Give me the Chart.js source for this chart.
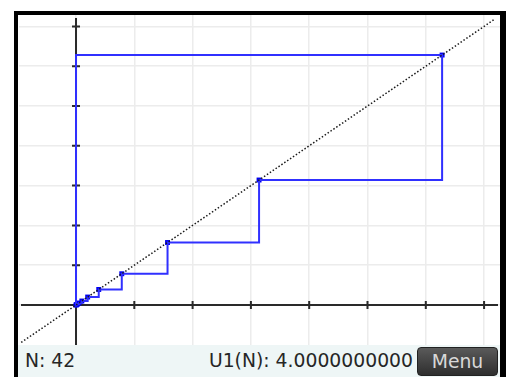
<!DOCTYPE html>
<html>
<head>
<meta charset="utf-8">
<script src="https://cdn.jsdelivr.net/npm/chart.js@4"></script>
<style>
  body { margin: 0; background: #fff; width: 509px; height: 377px; overflow: hidden; position: relative; font-family: "DejaVu Sans", sans-serif; }
  #frame { position: absolute; left: 14px; top: 11px; width: 482px; height: 366px; border: 4px solid #000; border-bottom: none; border-right-width: 6px; }
  #plot { position: absolute; left: 19px; top: 15px; width: 481px; height: 331px; }
  #status { position: absolute; left: 18px; top: 345px; width: 482px; height: 32px; background: #eef6f6; color: #262626; font-size: 18.8px; line-height: 22px; }
  #nLabel { position: absolute; left: 7px; top: 5px; }
  #uLabel { position: absolute; right: 87px; top: 5px; }
  #menu { position: absolute; left: 399px; top: 2px; width: 79px; height: 27px; border-radius: 4px; border: 1px solid #222;
          background: linear-gradient(#5a5a5a, #2e2e2e); color: #d8d8d8; text-align: center; line-height: 27px; }
</style>
</head>
<body>
<div id="frame"></div>
<div id="plot"><canvas id="stairChart"></canvas></div>
<div id="status">
  <span id="nLabel">N: 42</span>
  <span id="uLabel">U1(N): 4.0000000000</span>
  <div id="menu">Menu</div>
</div>
<script>
// sequence values (each lands on y = x)
const seqValues = [6.28, 3.14, 1.57, 0.785, 0.39, 0.2, 0.1, 0.05, 0.025, 0.012, 0.006, 0];
const axisTicks = [1, 2, 3, 4, 5, 6, 7];
const diagonalEnds = [-0.94, 7.17];
const xRange = [-0.978, 7.273];
const yRange = [-1.03, 7.286];

// stairstep path: up the y axis, then across / down between points
const stairPath = [{ x: 0, y: 0 }, { x: 0, y: seqValues[0] }];
seqValues.forEach((v, i) => {
    stairPath.push({ x: v, y: v });
    if (i + 1 < seqValues.length) stairPath.push({ x: v, y: seqValues[i + 1] });
});

// black axes with short tick marks
const axesPlugin = {
    id: 'axes',
    beforeDatasetsDraw(chart) {
        const { ctx, chartArea, scales } = chart;
        const x0 = scales.x.getPixelForValue(0);
        const y0 = scales.y.getPixelForValue(0);
        ctx.save();
        ctx.strokeStyle = '#2a2a2a';
        ctx.lineWidth = 2;
        ctx.beginPath();
        ctx.moveTo(chartArea.left + 2, y0);
        ctx.lineTo(chartArea.right - 2, y0);
        ctx.moveTo(x0, chartArea.top + 3);
        ctx.lineTo(x0, chartArea.bottom);
        axisTicks.forEach(t => {
            const px = scales.x.getPixelForValue(t);
            const py = scales.y.getPixelForValue(t);
            ctx.moveTo(px, y0 - 4);
            ctx.lineTo(px, y0 + 4);
            ctx.moveTo(x0 - 4, py);
            ctx.lineTo(x0 + 4, py);
        });
        ctx.stroke();
        ctx.restore();
    }
};

const stairCtx = document.getElementById('stairChart').getContext('2d');
const stairChart = new Chart(stairCtx, {
    type: 'scatter',
    data: {
        datasets: [{
            label: 'y = x',
            data: diagonalEnds.map(v => ({ x: v, y: v })),
            showLine: true,
            borderColor: '#1a1a1a',
            borderWidth: 1.5,
            borderDash: [1.5, 2],
            pointRadius: 0
        }, {
            label: 'U1 steps',
            data: stairPath,
            showLine: true,
            borderColor: '#3030ff',
            borderWidth: 2,
            pointRadius: 0
        }, {
            label: 'U1',
            data: seqValues.map(v => ({ x: v, y: v })),
            showLine: false,
            pointStyle: 'rect',
            pointRadius: 3.5,
            backgroundColor: '#0000f0',
            borderColor: '#0000f0',
            borderWidth: 0
        }]
    },
    options: {
        responsive: true,
        maintainAspectRatio: false,
        animation: false,
        layout: { padding: 0, autoPadding: false },
        plugins: {
            legend: { display: false },
            tooltip: { enabled: false }
        },
        scales: {
            x: {
                type: 'linear',
                min: xRange[0],
                max: xRange[1],
                border: { display: false },
                grid: { color: '#ececec', lineWidth: 1.5, drawTicks: false },
                ticks: { display: false, stepSize: 1, includeBounds: false }
            },
            y: {
                type: 'linear',
                min: yRange[0],
                max: yRange[1],
                border: { display: false },
                grid: {
                    color: c => (c.tick && c.tick.value < 0 ? 'rgba(0,0,0,0)' : '#ececec'),
                    lineWidth: 1.5,
                    drawTicks: false
                },
                ticks: { display: false, stepSize: 1, includeBounds: false }
            }
        }
    },
    plugins: [axesPlugin]
});
</script>
</body>
</html>
